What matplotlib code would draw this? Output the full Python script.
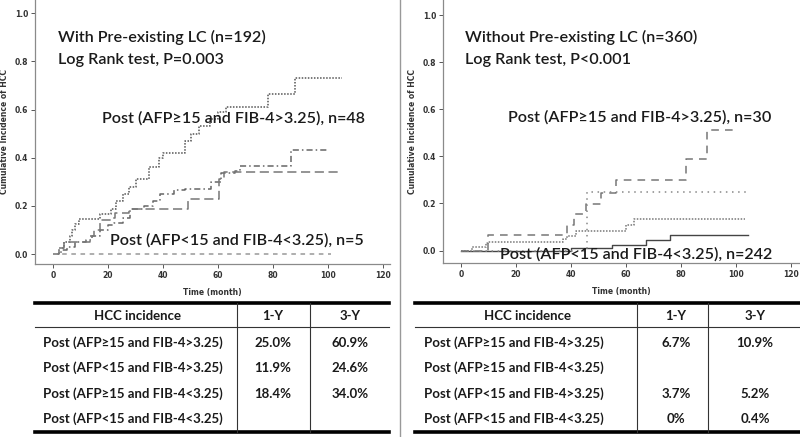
import matplotlib
matplotlib.use("Agg")
import matplotlib.pyplot as plt
from matplotlib.lines import Line2D

# ---------------- data ----------------
# Left panel: with pre-existing LC
left_t_hi_hi = [0, 2, 4, 6, 7, 8, 9.5, 17, 21, 23, 25.5, 27.5, 30, 35, 38.5, 40, 48, 50, 53, 57, 60, 63, 78, 88, 105]
left_v_hi_hi = [0, 0.025, 0.05, 0.075, 0.1, 0.125, 0.145, 0.165, 0.185, 0.22, 0.25, 0.28, 0.31, 0.36, 0.40, 0.42,
                0.47, 0.50, 0.53, 0.56, 0.59, 0.61, 0.665, 0.73, 0.73]
left_t_lo_hi = [0, 3, 5, 8, 12, 14, 17, 20, 22, 25.5, 28, 33, 36.5, 39, 44, 48, 57.5, 61, 66, 68, 86.5, 100]
left_v_lo_hi = [0, 0.015, 0.03, 0.05, 0.06, 0.075, 0.1, 0.12, 0.13, 0.15, 0.185, 0.2, 0.22, 0.25, 0.265, 0.27,
                0.30, 0.335, 0.345, 0.365, 0.43, 0.43]
left_t_hi_lo = [0, 2, 4, 13.5, 15, 17, 21, 22.5, 27.5, 49, 60.5, 62, 105]
left_v_hi_lo = [0, 0.025, 0.05, 0.075, 0.1, 0.14, 0.15, 0.17, 0.185, 0.23, 0.31, 0.34, 0.34]
left_t_lo_lo = [0, 101]
left_v_lo_lo = [0, 0]

# Right panel: without pre-existing LC
right_t_hi_hi = [0, 10, 38.5, 41, 45.5, 51, 56.5, 82, 89.5, 100.5]
right_v_hi_hi = [0, 0.067, 0.109, 0.155, 0.198, 0.245, 0.30, 0.388, 0.51, 0.51]
right_t_hi_lo = [0, 46, 104]
right_v_hi_lo = [0, 0.25, 0.25]
right_t_lo_hi = [0, 4, 9, 10, 37, 38.5, 42, 60, 63, 103.5]
right_v_lo_hi = [0, 0.017, 0.03, 0.038, 0.05, 0.06, 0.085, 0.11, 0.135, 0.135]
right_t_lo_lo = [0, 40, 55, 67.5, 76, 104.5]
right_v_lo_lo = [0, 0.01, 0.025, 0.045, 0.066, 0.066]

x_ticks = [0, 20, 40, 60, 80, 100, 120]
y_ticks = [0.0, 0.2, 0.4, 0.6, 0.8, 1.0]

left_title = "With Pre-existing LC (n=192)"
left_test = "Log Rank test, P=0.003"
left_lab_top = "Post (AFP\u226515 and FIB-4>3.25), n=48"
left_lab_bot = "Post (AFP<15 and FIB-4<3.25), n=5"
right_title = "Without Pre-existing LC (n=360)"
right_test = "Log Rank test, P<0.001"
right_lab_top = "Post (AFP\u226515 and FIB-4>3.25), n=30"
right_lab_bot = "Post (AFP<15 and FIB-4<3.25), n=242"

table_header = ["HCC incidence", "1-Y", "3-Y"]
left_rows = ["Post (AFP\u226515 and FIB-4>3.25)", "Post (AFP<15 and FIB-4>3.25)",
             "Post (AFP\u226515 and FIB-4<3.25)", "Post (AFP<15 and FIB-4<3.25)"]
left_1y = ["25.0%", "11.9%", "18.4%", ""]
left_3y = ["60.9%", "24.6%", "34.0%", ""]
right_rows = ["Post (AFP\u226515 and FIB-4>3.25)", "Post (AFP\u226515 and FIB-4<3.25)",
              "Post (AFP<15 and FIB-4>3.25)", "Post (AFP<15 and FIB-4<3.25)"]
right_1y = ["6.7%", "", "3.7%", "0%"]
right_3y = ["10.9%", "", "5.2%", "0.4%"]

# ---------------- figure ----------------
W, H = 800, 437
fig = plt.figure(figsize=(8, 4.37), dpi=100)
FONT = ["Lato", "DejaVu Sans"]


def fx(px):
    return px / W


def fy(py):
    return 1 - py / H


def make_axes(left_px, right_px, bottom_px, top_px, xlim, ylim):
    ax = fig.add_axes([fx(left_px), fy(bottom_px), fx(right_px - left_px), (bottom_px - top_px) / H])
    ax.set_xlim(*xlim)
    ax.set_ylim(*ylim)
    for s in ("top", "right"):
        ax.spines[s].set_visible(False)
    for s in ("left", "bottom"):
        ax.spines[s].set_color("#8a8a8a")
        ax.spines[s].set_linewidth(0.9)
    ax.set_xticks(x_ticks)
    ax.set_yticks(y_ticks)
    ax.set_xticklabels([str(v) for v in x_ticks], fontsize=5.5, fontweight="bold", color="#333")
    ax.set_yticklabels([f"{v:.1f}" for v in y_ticks], fontsize=5.5, fontweight="bold", color="#333")
    ax.tick_params(length=3, width=0.7, color="#555", pad=2)
    ax.set_facecolor("none")
    return ax


axL = make_axes(35, 390, 264, 0, (-6.55, 122.5), (-0.0415, 1.055))
axR = make_axes(443, 800, 263, 0, (-6.55, 123.4), (-0.053, 1.064))

for ax in (axL, axR):
    ax.set_xlabel("Time (month)", fontsize=5.5, fontweight="bold", color="#333", labelpad=6)
    ax.set_ylabel("Cumulative Incidence of HCC", fontsize=5.5, fontweight="bold", color="#333", labelpad=4)

# curves - left
axL.step(left_t_hi_hi, left_v_hi_hi, where="post", color="#555", lw=1.1, ls=(0, (1, 1)))
axL.step(left_t_lo_hi, left_v_lo_hi, where="post", color="#666", lw=1.1, ls=(0, (4, 2, 1, 2)))
axL.step(left_t_hi_lo, left_v_hi_lo, where="post", color="#777", lw=1.1, ls=(0, (6, 3)))
axL.step(left_t_lo_lo, left_v_lo_lo, where="post", color="#999", lw=1.1, ls=(0, (3, 3)))

# curves - right
axR.step(right_t_lo_lo, right_v_lo_lo, where="post", color="#444", lw=1.0, ls="-")
axR.step(right_t_hi_hi, right_v_hi_hi, where="post", color="#777", lw=1.1, ls=(0, (5, 4)))
axR.step(right_t_hi_lo, right_v_hi_lo, where="post", color="#888", lw=1.1, ls=(0, (1, 3)))
axR.step(right_t_lo_hi, right_v_lo_hi, where="post", color="#777", lw=1.1, ls=(0, (1, 1)))

# annotations
tk = dict(fontsize=11.6, family=FONT, fontweight="semibold", color="#1a1a1a", va="center", ha="left")
axL.text(1.8, 0.90, left_title, **tk)
axL.text(1.8, 0.806, left_test, **tk)
axL.text(17.8, 0.565, left_lab_top, **tk)
axL.text(20.7, 0.058, left_lab_bot, **tk)
axR.text(1.5, 0.907, right_title, **tk)
axR.text(1.5, 0.809, right_test, **tk)
axR.text(17.1, 0.567, right_lab_top, **tk)
axR.text(14.2, -0.018, right_lab_bot, **tk)

# divider
fig.add_artist(Line2D([fx(400), fx(400)], [0, 1], color="#999", lw=1.0))


# tables
def draw_table(x0, x1, xc1, xc2, text_left, hdr_c, c1, c2, rows, v1, v2):
    top, hsep, bot = 303, 327, 432
    fig.add_artist(Line2D([fx(x0), fx(x1)], [fy(top), fy(top)], color="black", lw=2.6))
    fig.add_artist(Line2D([fx(x0), fx(x1)], [fy(hsep), fy(hsep)], color="#333", lw=0.8))
    fig.add_artist(Line2D([fx(x0), fx(x1)], [fy(bot), fy(bot)], color="black", lw=2.6))
    for xc in (xc1, xc2):
        fig.add_artist(Line2D([fx(xc), fx(xc)], [fy(top), fy(bot)], color="#333", lw=0.8))
    tt = dict(fontsize=9.5, fontweight="bold", family=FONT, color="#1a1a1a", va="center")
    fig.text(fx(hdr_c), fy(316), table_header[0], ha="center", **tt)
    fig.text(fx(c1), fy(316), table_header[1], ha="center", **tt)
    fig.text(fx(c2), fy(316), table_header[2], ha="center", **tt)
    for i, ry in enumerate([343, 368, 394, 419]):
        fig.text(fx(text_left), fy(ry), rows[i], ha="left", **tt)
        fig.text(fx(c1), fy(ry), v1[i], ha="center", **tt)
        fig.text(fx(c2), fy(ry), v2[i], ha="center", **tt)


draw_table(35, 389, 237, 310, 43, 137, 273, 350, left_rows, left_1y, left_3y)
draw_table(415, 800, 637, 708, 424, 527, 676, 755, right_rows, right_1y, right_3y)

fig.savefig("out.png", dpi=100)
